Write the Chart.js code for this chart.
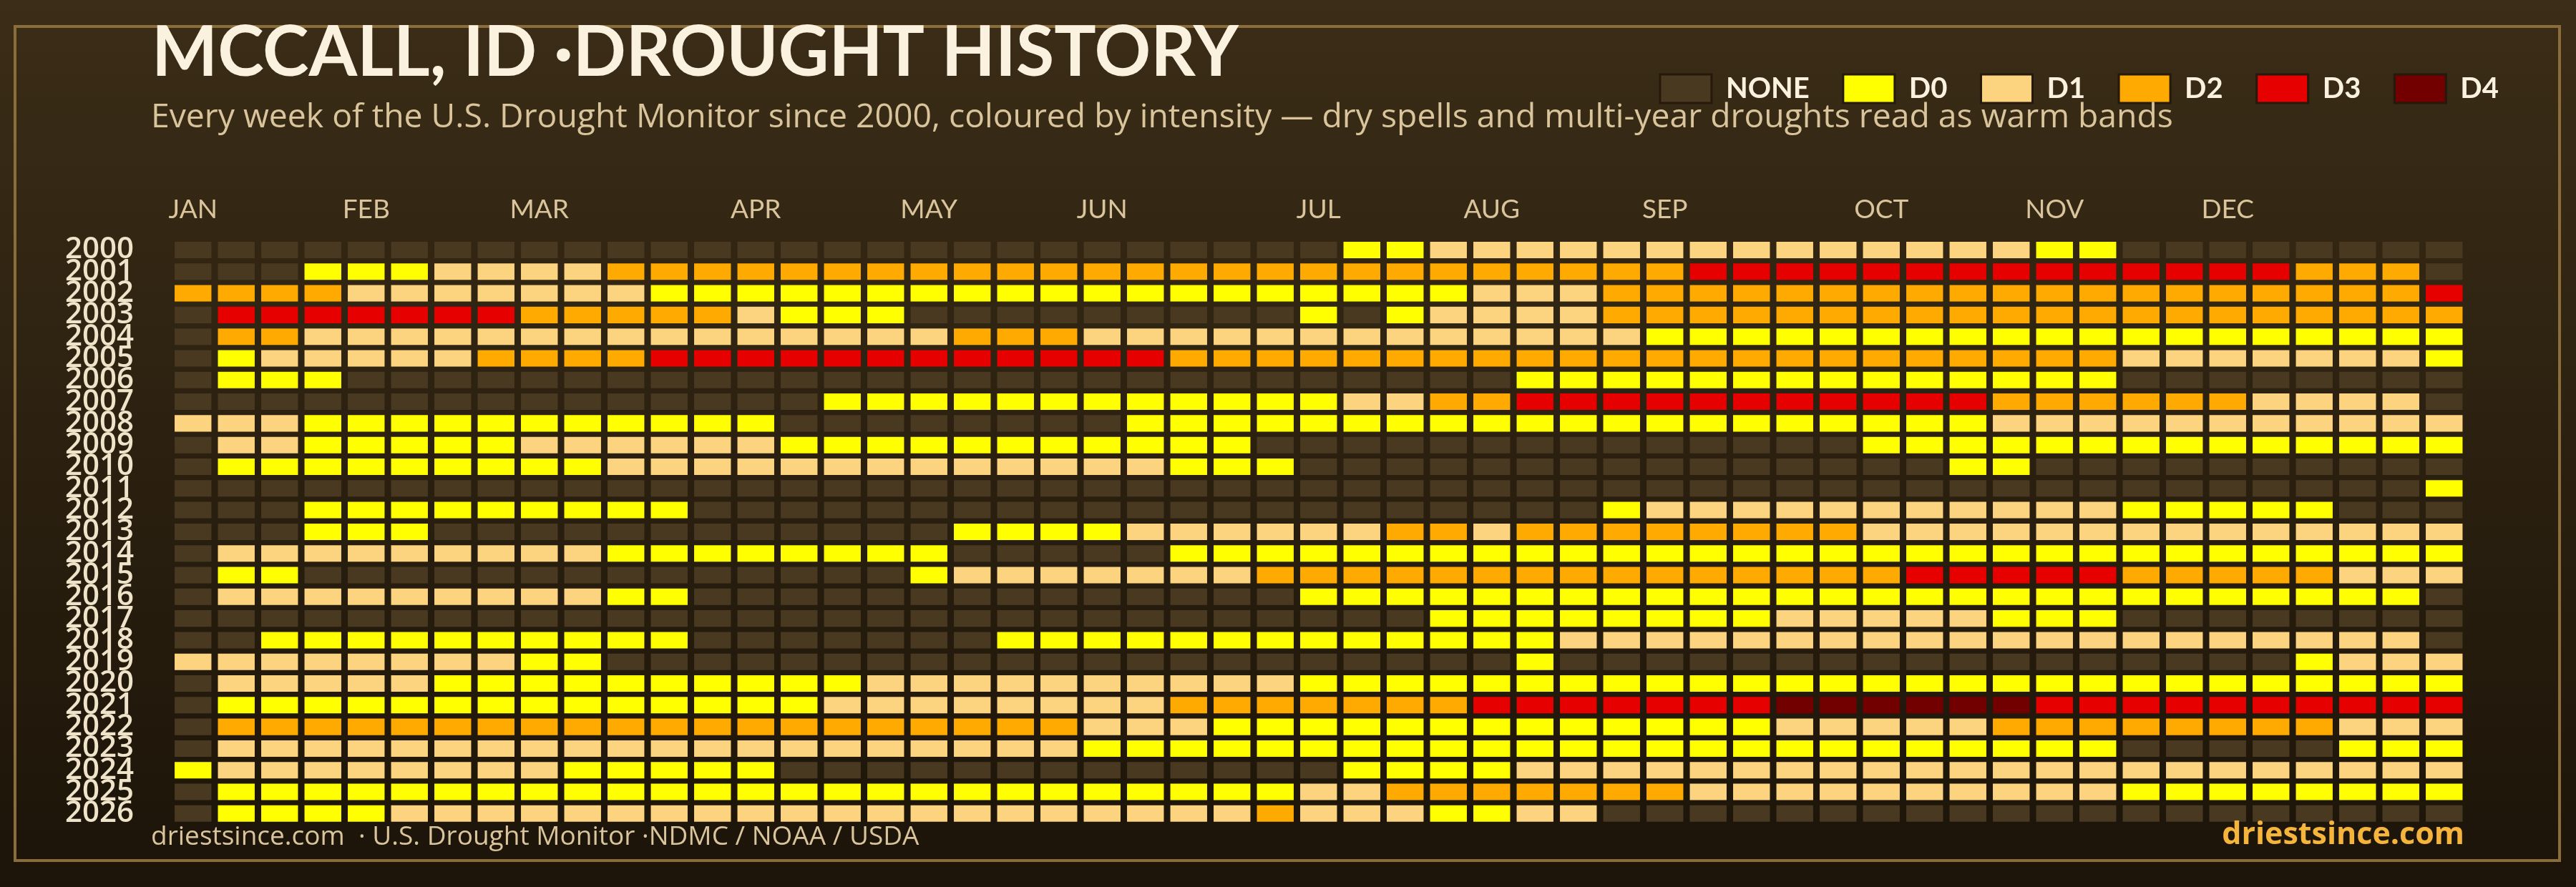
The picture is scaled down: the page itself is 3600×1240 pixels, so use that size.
<!DOCTYPE html>
<html>
<head>
<meta charset="utf-8">
<script src="https://cdn.jsdelivr.net/npm/chart.js@4.4.1/dist/chart.umd.min.js"></script>
<style>
  html, body { margin: 0; padding: 0; background: #1e160b; }
  canvas { display: block; }
</style>
</head>
<body>
<canvas id="chart" width="3600" height="1240" style="width:3600px;height:1240px"></canvas>
<script>
// ---------- data ----------
const years = [2000, 2001, 2002, 2003, 2004, 2005, 2006, 2007, 2008, 2009, 2010, 2011, 2012,
               2013, 2014, 2015, 2016, 2017, 2018, 2019, 2020, 2021, 2022, 2023, 2024, 2025, 2026];
const weeks = Array.from({ length: 53 }, (_, i) => 'W' + (i + 1));
const monthNames = ['JAN', 'FEB', 'MAR', 'APR', 'MAY', 'JUN', 'JUL', 'AUG', 'SEP', 'OCT', 'NOV', 'DEC'];
const monthStartWeek = [0, 4, 8, 13, 17, 21, 26, 30, 34, 39, 43, 47];
const levelNames = ['NONE', 'D0', 'D1', 'D2', 'D3', 'D4'];
const levelCodes = ['.', '0', '1', '2', '3', '4'];
const levelColors = ['#483920', '#ffff00', '#fcd37f', '#ffaa00', '#e60000', '#730000'];
// one string per year, one character per week ('.' = none, '0'..'4' = D0..D4), '|' every 10 weeks
const weeklyLevels = [
  '..........|..........|.......001|1111111111|11100.....|...', // 2000
  '...0001111|2222222222|2222222222|2222233333|3333333332|22.', // 2001
  '2222111111|1000000000|0000000000|1112222222|2222222222|223', // 2002
  '.333333322|2221000...|......0.01|1112222222|2222222222|222', // 2003
  '.221111111|1111111122|2111111111|1111000000|0000000000|000', // 2004
  '.011111222|2333333333|3332222222|2222222222|2222211111|110', // 2005
  '.000......|..........|..........|.000000000|00000.....|...', // 2006
  '..........|.....00000|0000000112|2333333333|3322222211|11.', // 2007
  '1110000000|0000......|..00000000|0000000000|0011111111|111', // 2008
  '.110000011|1111000000|00000.....|.........0|0000000000|000', // 2009
  '.000000000|1111111111|111000....|..........|.00.......|...', // 2010
  '..........|..........|..........|..........|..........|..0', // 2011
  '...0000000|00........|..........|...0111111|1111100000|...', // 2012
  '...000....|........00|0011111122|1222222221|1111111111|111', // 2013
  '.111111111|00000000..|...0000000|0000000000|0000000000|000', // 2014
  '.00.......|.......011|1111122222|2222222222|3333322222|111', // 2015
  '.111111111|00........|......0000|0000000000|0000000000|00.', // 2016
  '..........|..........|.........0|0000000111|11000.....|...', // 2017
  '..00000000|00.......0|0000000000|0011111111|1111111111|11.', // 2018
  '1111111100|..........|..........|.0........|.........0|111', // 2019
  '.111110000|0000001111|1111110000|0000000000|0000000000|000', // 2020
  '.000000000|0000011111|1112222222|3333333444|4443333333|333', // 2021
  '.222222222|2222222222|2111000000|0000000111|1122222222|111', // 2022
  '.111111111|1111111111|1000000000|0000000000|00000.....|000', // 2023
  '0111111110|0000......|.......000|0111111111|1111111111|111', // 2024
  '.000000000|0000000000|0000001122|2222211111|1111100000|000', // 2025
  '.000011111|1111111111|1111121110|011.......|..........|...'  // 2026
];
const titleText = 'MCCALL, ID \u00b7DROUGHT HISTORY';
const subtitleText = 'Every week of the U.S. Drought Monitor since 2000, coloured by intensity \u2014 dry spells and multi-year droughts read as warm bands';
const footerLeftText = 'driestsince.com  \u00b7 U.S. Drought Monitor \u00b7NDMC / NOAA / USDA';
const footerRightText = 'driestsince.com';

// ---------- datasets (one per drought level) ----------
const datasets = levelNames.map((name, li) => {
  const data = [];
  weeklyLevels.forEach((row, r) => {
    const cells = row.replace(/\|/g, '');
    for (let w = 0; w < cells.length; w++) {
      if (cells[w] === levelCodes[li]) data.push({ x: weeks[w], y: [r - 0.38, r + 0.38] });
    }
  });
  return {
    label: name,
    data,
    backgroundColor: levelColors[li],
    borderWidth: 0,
    grouped: false,
    categoryPercentage: 1,
    barPercentage: 0.85
  };
});

// ---------- decoration plugin (background, frame, titles, footer) ----------
const decor = {
  id: 'decor',
  beforeDraw(chart) {
    const { ctx, width, height } = chart;
    ctx.save();
    const g = ctx.createLinearGradient(0, 0, 0, height);
    g.addColorStop(0, '#3b2d17');
    g.addColorStop(1, '#1c1409');
    ctx.fillStyle = g;
    ctx.fillRect(0, 0, width, height);
    ctx.strokeStyle = '#8a6d38';
    ctx.lineWidth = 4;
    ctx.strokeRect(21, 37, 3556, 1166);
    ctx.restore();
    // tiny slack so the single legend row never wraps from float rounding
    const lg = chart.legend;
    if (lg && Array.isArray(lg.lineWidths) && !lg._slackAdded) {
      lg.lineWidths = lg.lineWidths.map((w) => w + 0.05);
      lg._slackAdded = true;
    }
  },
  afterDraw(chart) {
    const { ctx } = chart;
    ctx.save();
    ctx.textAlign = 'left';
    ctx.textBaseline = 'alphabetic';
    ctx.fillStyle = '#faf2df';
    ctx.font = 'bold 97.5px Lato';
    ctx.fillText(titleText, 212, 106);
    ctx.fillStyle = '#d9c49b';
    ctx.font = '46.3px "Open Sans"';
    ctx.fillText(subtitleText, 211, 178);

    ctx.textBaseline = 'middle';
    ctx.fillStyle = '#d9c49b';
    ctx.font = '37px "Open Sans"';
    ctx.fillText(footerLeftText, 211, 1170);
    ctx.textAlign = 'right';
    ctx.fillStyle = '#f5b43c';
    ctx.font = 'bold 43px "Open Sans"';
    ctx.fillText(footerRightText, 3444, 1168);
    ctx.restore();
  }
};

new Chart(document.getElementById('chart'), {
  type: 'bar',
  data: { labels: weeks, datasets },
  plugins: [decor],
  options: {
    responsive: false,
    animation: false,
    devicePixelRatio: 1,
    layout: { padding: { left: 60, right: 61, top: 57, bottom: 87.5 } },
    plugins: {
      tooltip: { enabled: false },
      title: { display: false },
      subtitle: { display: false },
      legend: {
        display: true,
        position: 'top',
        align: 'end',
        labels: {
          color: '#faf2df',
          font: { family: 'Lato', size: 40, weight: 'bold' },
          boxWidth: 72,
          boxHeight: 40,
          padding: 47,
          generateLabels: (chart) => chart.data.datasets.map((ds, i) => ({
            text: ds.label,
            fillStyle: ds.backgroundColor,
            strokeStyle: '#24190b',
            fontColor: '#faf2df',
            lineWidth: 3,
            hidden: false,
            datasetIndex: i
          }))
        }
      }
    },
    scales: {
      x: {
        type: 'category',
        position: 'top',
        offset: true,
        grid: { display: false },
        border: { display: false },
        ticks: {
          autoSkip: false,
          maxRotation: 0,
          minRotation: 0,
          padding: 11,
          color: '#d9c49b',
          font: { family: 'Lato', size: 37 },
          callback: (v, i) => {
            const m = monthStartWeek.indexOf(i);
            return m >= 0 ? monthNames[m] : '';
          }
        },
        afterFit: (s) => { s.height = 180.3; }
      },
      y: {
        type: 'linear',
        position: 'left',
        display: true,
        min: -0.5,
        max: 26.5,
        reverse: true,
        grid: { display: false },
        border: { display: false },
        afterBuildTicks: (s) => { s.ticks = years.map((_, i) => ({ value: i })); },
        ticks: {
          display: true,
          autoSkip: false,
          padding: 44.5,
          color: '#efe4c9',
          font: { family: 'Open Sans', size: 42, weight: '600' },
          callback: (v) => String(years[Math.round(v)])
        },
        afterFit: (s) => { s.width = 179.5; }
      },
      y2: {
        type: 'linear',
        position: 'right',
        display: true,
        grid: { display: false },
        border: { display: false },
        ticks: { display: false },
        afterFit: (s) => { s.width = 93; }
      }
    }
  }
});
</script>
</body>
</html>
